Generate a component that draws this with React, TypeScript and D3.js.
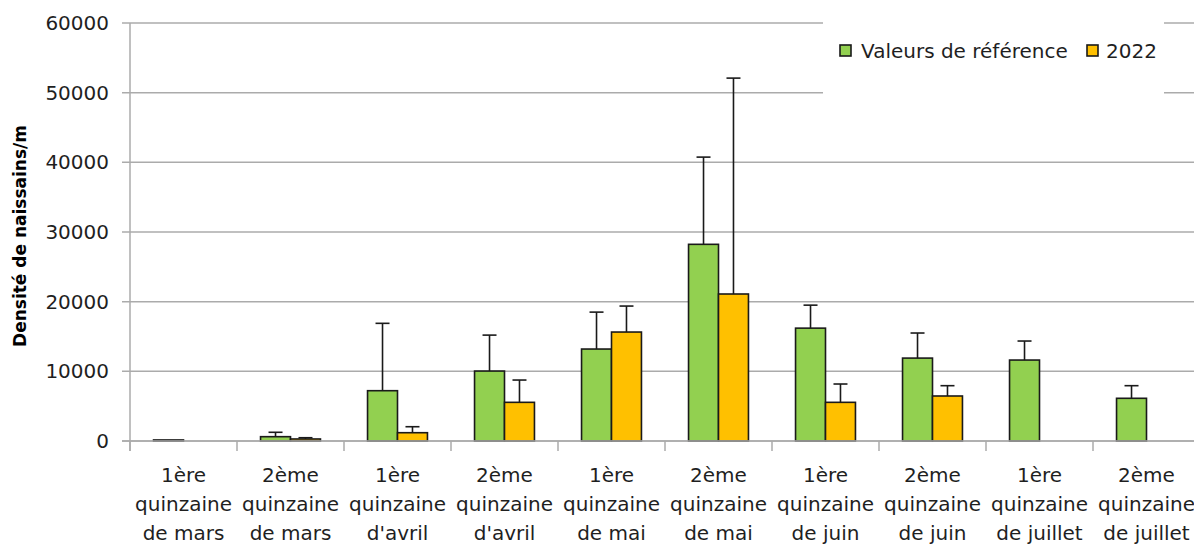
import React from "react";
import * as d3 from "d3";

const categories: string[][] = [
  ["1ère", "quinzaine", "de mars"],
  ["2ème", "quinzaine", "de mars"],
  ["1ère", "quinzaine", "d'avril"],
  ["2ème", "quinzaine", "d'avril"],
  ["1ère", "quinzaine", "de mai"],
  ["2ème", "quinzaine", "de mai"],
  ["1ère", "quinzaine", "de juin"],
  ["2ème", "quinzaine", "de juin"],
  ["1ère", "quinzaine", "de juillet"],
  ["2ème", "quinzaine", "de juillet"],
];

const refValues: number[] = [150, 620, 7220, 10040, 13200, 28230, 16200, 11900, 11620, 6130];
const refErrorTops: (number | null)[] = [null, 1250, 16890, 15200, 18500, 40750, 19500, 15500, 14350, 7940];
const values2022: (number | null)[] = [null, 290, 1190, 5550, 15640, 21100, 5550, 6460, null, null];
const errorTops2022: (number | null)[] = [null, 470, 2050, 8750, 19370, 52090, 8180, 7940, null, null];

const yTicks: number[] = [0, 10000, 20000, 30000, 40000, 50000, 60000];
const seriesNames: string[] = ["Valeurs de référence", "2022"];
const seriesColors: string[] = ["#92D050", "#FFC000"];

const W = 1194;
const H = 544;
const FONT = "DejaVu Sans, Verdana, sans-serif";
const TEXT = "#1f1f1f";
const GRID = "#ABABAB";
const FS = 20;

export default function App() {
  const x0 = d3
    .scaleBand<number>()
    .domain(d3.range(categories.length))
    .range([130, 1200])
    .paddingInner(0)
    .paddingOuter(0);
  const bw = x0.bandwidth();
  const barW = bw * 0.28;
  const y = d3.scaleLinear().domain([0, 60000]).range([441, 23]);

  const series = [
    { name: seriesNames[0], color: seriesColors[0], vals: refValues, tops: refErrorTops },
    { name: seriesNames[1], color: seriesColors[1], vals: values2022, tops: errorTops2022 },
  ];

  const boundaries = d3.range(categories.length + 1).map((i) => 130 + i * bw);

  return (
    <svg
      width={W}
      height={H}
      style={{ position: "absolute", left: 0, top: 0, background: "#fff" }}
      fontFamily={FONT}
    >
      {/* gridlines + y ticks */}
      {yTicks.map((t) => (
        <g key={t}>
          <line x1={122} x2={W} y1={y(t)} y2={y(t)} stroke={GRID} strokeWidth={1.5} />
          <text
            x={109}
            y={y(t)}
            textAnchor="end"
            dominantBaseline="central"
            fontSize={FS}
            fill={TEXT}
          >
            {t}
          </text>
        </g>
      ))}

      {/* legend background */}
      <rect x={823} y={17} width={341} height={80} fill="#fff" />

      {/* y axis */}
      <line x1={130} x2={130} y1={23} y2={451} stroke={GRID} strokeWidth={1.5} />
      {/* x tick marks */}
      {boundaries.map((bx, i) => (
        <line key={i} x1={bx} x2={bx} y1={441} y2={451} stroke={GRID} strokeWidth={1.5} />
      ))}

      {/* bars */}
      {series.map((s, si) =>
        s.vals.map((v, i) => {
          if (v === null) return null;
          const cx = (x0(i) as number) + bw / 2;
          const bx = cx - barW + si * barW;
          return (
            <rect
              key={`b${si}-${i}`}
              x={bx}
              y={y(v)}
              width={barW}
              height={y(0) - y(v)}
              fill={s.color}
              stroke="#1a1a1a"
              strokeWidth={1.6}
            />
          );
        })
      )}

      {/* error bars */}
      {series.map((s, si) =>
        s.tops.map((t, i) => {
          const v = s.vals[i];
          if (t === null || v === null) return null;
          const cx = (x0(i) as number) + bw / 2;
          const ex = cx - barW + si * barW + barW / 2;
          return (
            <g key={`e${si}-${i}`} stroke="#1a1a1a" strokeWidth={1.6}>
              <line x1={ex} x2={ex} y1={y(v)} y2={y(t)} />
              <line x1={ex - 7} x2={ex + 7} y1={y(t)} y2={y(t)} />
            </g>
          );
        })
      )}

      {/* x axis line */}
      <line x1={122} x2={W} y1={441} y2={441} stroke={GRID} strokeWidth={1.5} />

      {/* category labels */}
      {categories.map((lines, i) => {
        const cx = (x0(i) as number) + bw / 2;
        return (
          <text key={`c${i}`} textAnchor="middle" fontSize={FS} fill={TEXT}>
            {lines.map((ln, li) => (
              <tspan key={li} x={cx} y={482 + li * 29}>
                {ln}
              </tspan>
            ))}
          </text>
        );
      })}

      {/* y axis title */}
      <text
        transform="translate(26,236) rotate(-90)"
        textAnchor="middle"
        fontSize={17}
        fontWeight="bold"
        fill="#000"
      >
        Densité de naissains/m
      </text>

      {/* legend */}
      <rect x={840} y={45} width={11} height={11} fill={seriesColors[0]} stroke="#1a1a1a" strokeWidth={1.6} />
      <text x={861} y={58} fontSize={FS} fill={TEXT}>
        {seriesNames[0]}
      </text>
      <rect x={1087} y={45} width={11} height={11} fill={seriesColors[1]} stroke="#1a1a1a" strokeWidth={1.6} />
      <text x={1106} y={58} fontSize={FS} fill={TEXT}>
        {seriesNames[1]}
      </text>
    </svg>
  );
}
